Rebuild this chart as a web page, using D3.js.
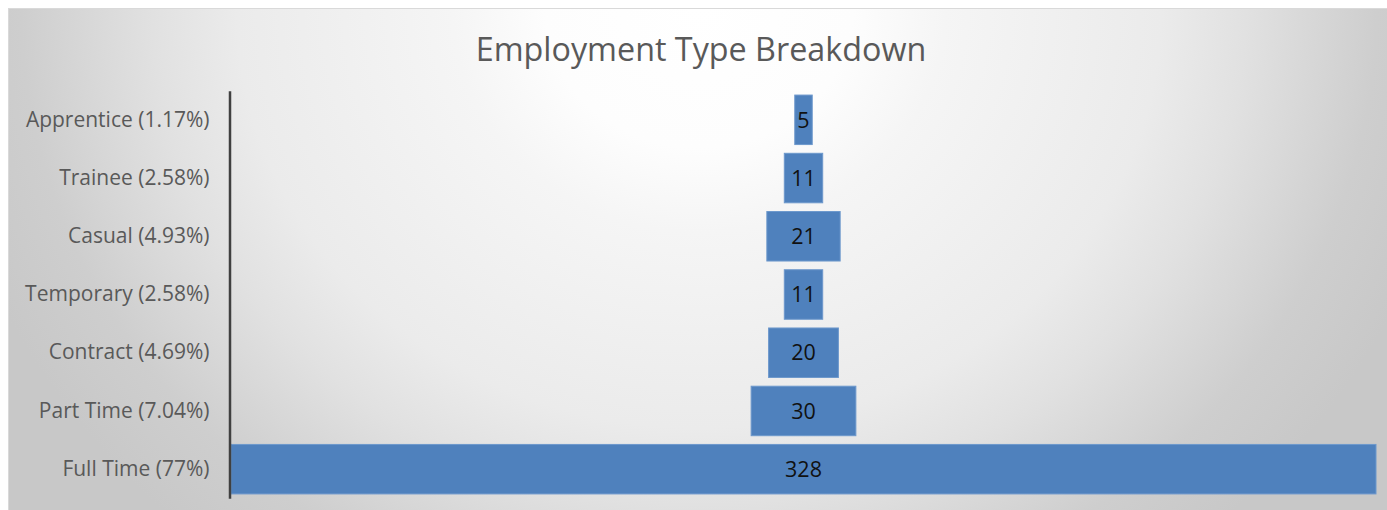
<!DOCTYPE html>
<html>
<head>
<meta charset="utf-8">
<script src="https://cdn.jsdelivr.net/npm/d3@7"></script>
<style>
  html, body { margin: 0; padding: 0; background: #ffffff; }
  svg { display: block; }
</style>
</head>
<body>
<svg id="chart" width="1387" height="510"></svg>
<script>
// Employment type counts, top of the funnel first
const categories = ["Apprentice", "Trainee", "Casual", "Temporary", "Contract", "Part Time", "Full Time"];
const shareLabels = ["1.17%", "2.58%", "4.93%", "2.58%", "4.69%", "7.04%", "77%"];
const counts = [5, 11, 21, 11, 20, 30, 328];
const title = "Employment Type Breakdown";

const W = 1387, H = 510;
const svg = d3.select("#chart");

// Chart area background: soft radial glow from the top centre
const defs = svg.append("defs");
const grad = defs.append("radialGradient")
  .attr("id", "bgGlow")
  .attr("gradientUnits", "userSpaceOnUse")
  .attr("cx", 0).attr("cy", 0).attr("r", 700)
  .attr("gradientTransform", "translate(699,8) scale(1.1,1)");
[[0, "#ffffff"], [0.2, "#fdfdfd"], [0.32, "#f5f5f5"], [0.6, "#ebebeb"], [0.71, "#e1e1e1"], [0.88, "#cecece"], [1, "#c8c8c8"]]
  .forEach(([o, c]) => grad.append("stop").attr("offset", o).attr("stop-color", c));

svg.append("rect")
  .attr("x", 8.5).attr("y", 8.5)
  .attr("width", W - 8).attr("height", H - 8)
  .attr("fill", "url(#bgGlow)")
  .attr("stroke", "#d9d9d9").attr("stroke-width", 1);

// Title
svg.append("text")
  .attr("x", 701).attr("y", 61)
  .attr("text-anchor", "middle")
  .attr("font-family", "'Open Sans', sans-serif")
  .attr("font-size", 32.3)
  .attr("fill", "#595959")
  .text(title);

// Plot geometry
const plotLeft = 231, plotRight = 1376;
const centerX = (plotLeft + plotRight) / 2;

const x = d3.scaleLinear()
  .domain([0, d3.max(counts)])
  .range([0, plotRight - plotLeft]);

const rows = categories.map((c, i) => ({
  cat: c,
  label: `${c} (${shareLabels[i]})`,
  value: counts[i]
}));

const y = d3.scaleBand()
  .domain(categories)
  .range([90.7, 498.3])
  .paddingInner(0.15)
  .paddingOuter(0.075);

// Funnel bars, each centred on the plot
const g = svg.append("g");
g.selectAll("rect.bar")
  .data(rows)
  .join("rect")
  .attr("class", "bar")
  .attr("x", d => centerX - x(d.value) / 2)
  .attr("y", d => y(d.cat))
  .attr("width", d => x(d.value))
  .attr("height", y.bandwidth())
  .attr("fill", "#4f81bd")
  .attr("stroke", "#6d98cc")
  .attr("stroke-width", 1);

// Value labels
g.selectAll("text.val")
  .data(rows)
  .join("text")
  .attr("class", "val")
  .attr("x", centerX)
  .attr("y", d => y(d.cat) + y.bandwidth() / 2)
  .attr("dy", "0.36em")
  .attr("text-anchor", "middle")
  .attr("font-family", "'Open Sans', sans-serif")
  .attr("font-size", 21.5)
  .attr("fill", "#111111")
  .text(d => d.value);

// Category axis
const labelOf = new Map(rows.map(d => [d.cat, d.label]));
const axis = svg.append("g")
  .attr("transform", "translate(229.5,0)")
  .call(d3.axisLeft(y).tickSize(0).tickPadding(20).tickFormat(c => labelOf.get(c)));
axis.select(".domain")
  .attr("stroke", "#404040")
  .attr("stroke-width", 2.5);
axis.selectAll("text")
  .attr("font-family", "'Open Sans', sans-serif")
  .attr("font-size", 21)
  .attr("fill", "#595959");
</script>
</body>
</html>
